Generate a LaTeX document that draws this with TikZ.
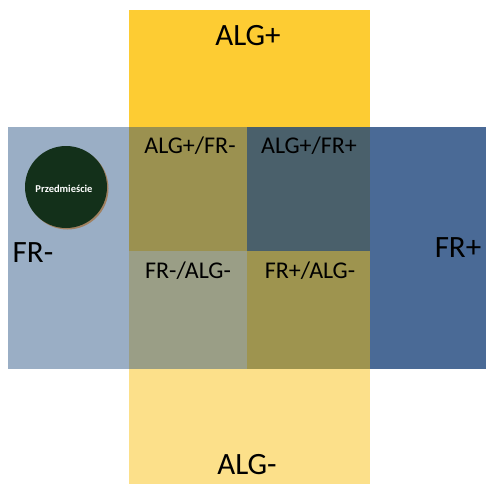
\documentclass[tikz,border=0pt]{standalone}
\usepackage{fontspec}
\setmainfont{Carlito}
\definecolor{ytop}{HTML}{FDCC33}
\definecolor{ybot}{HTML}{FCE08A}
\definecolor{bleft}{HTML}{9AAEC5}
\definecolor{bright}{HTML}{4A6A96}
\definecolor{otl}{HTML}{9B9150}
\definecolor{otr}{HTML}{4A606B}
\definecolor{obl}{HTML}{9A9E86}
\definecolor{obr}{HTML}{9E944F}
\definecolor{circ}{HTML}{13301A}
\definecolor{shad}{HTML}{A08060}
\begin{document}
\begin{tikzpicture}[x=1pt,y=-1pt,
  big/.style={font=\fontsize{31}{31}\selectfont, text=black, inner sep=0pt},
  mid/.style={font=\fontsize{24}{24}\selectfont, text=black, inner sep=0pt},
  small/.style={font=\bfseries\fontsize{10.5}{10.5}\selectfont, text=white, inner sep=0pt}]
\useasboundingbox (0,0) rectangle (486,484);
\fill[white] (0,0) rectangle (486,484);
% vertical band
\fill[ytop] (129,10) rectangle (370,251);
\fill[ybot] (129,251) rectangle (370,484);
% horizontal band
\fill[bleft] (8,127) rectangle (247,369);
\fill[bright] (247,127) rectangle (486,369);
% overlaps
\fill[otl] (129,127) rectangle (247,251);
\fill[otr] (247,127) rectangle (370,251);
\fill[obl] (129,251) rectangle (247,369);
\fill[obr] (247,251) rectangle (370,369);
% circle
\fill[shad] (67.5,188.5) circle (41);
\node[circle, fill=circ, minimum size=82pt, inner sep=0pt] (c) at (66,187) {};
\node[small] (pz) at (64,189) {Przedmieście};
% labels
\node[big] (algp) at (248,36) {ALG+};
\node[big] (algm) at (247,465) {ALG-};
\node[big] (frm) at (33,253) {FR-};
\node[big] (frp) at (458,248) {FR+};
\node[mid] (q1) at (190,146) {ALG+/FR-};
\node[mid] (q2) at (309,146) {ALG+/FR+};
\node[mid] (q3) at (188,271) {FR-/ALG-};
\node[mid] (q4) at (310,271) {FR+/ALG-};
\end{tikzpicture}
\end{document}
